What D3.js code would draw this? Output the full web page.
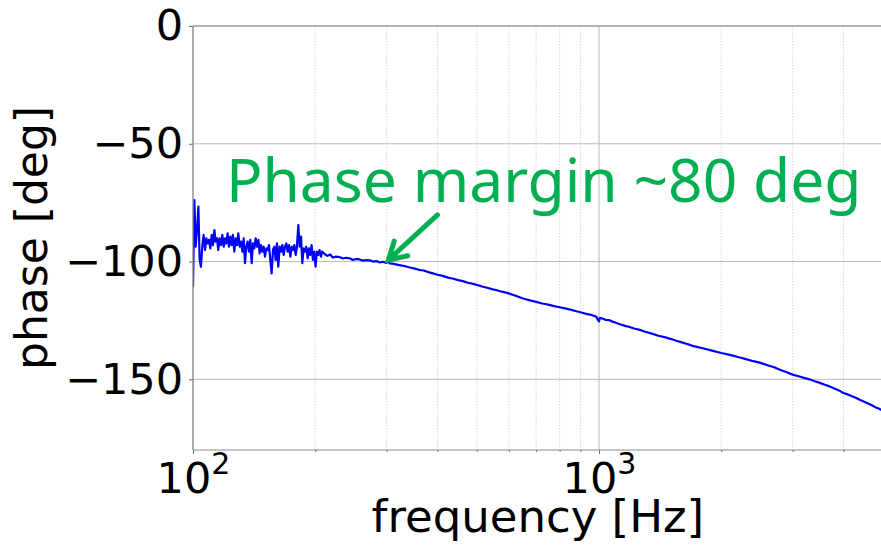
<!DOCTYPE html>
<html>
<head>
<meta charset="utf-8">
<script src="https://cdn.jsdelivr.net/npm/d3@7"></script>
<style>
  html, body { margin: 0; padding: 0; background: #fff; }
  svg { display: block; }
</style>
</head>
<body>
<div id="container"></div>
<script>
const freqHz = [
  100.0, 100.8, 101.5, 102.3, 103.1, 103.85, 104.6, 105.4, 106.2, 107.05,
  107.85, 108.7, 109.5, 110.3, 111.2, 112.0, 112.9, 113.7, 114.6, 115.4,
  116.3, 117.2, 118.1, 119.0, 119.9, 120.8, 121.7, 122.6, 123.6, 124.5,
  125.4, 126.4, 127.4, 128.3, 129.3, 130.3, 131.3, 132.3, 133.3, 134.3,
  135.3, 136.3, 137.4, 138.4, 139.5, 140.5, 141.6, 142.7, 143.8, 144.9,
  145.9, 147.0, 148.2, 149.3, 150.4, 151.6, 152.7, 153.9, 155.0, 156.2,
  157.4, 158.6, 159.8, 161.0, 162.2, 163.5, 164.7, 166.0, 167.2, 168.5,
  169.8, 171.1, 172.4, 173.7, 175.0, 176.3, 177.6, 179.0, 180.3, 181.7,
  183.1, 184.5, 185.9, 187.3, 188.7, 190.1, 191.6, 193.0, 194.5, 195.9,
  197.4, 198.9, 200.4, 201.9, 203.5, 205.0, 206.6, 208.1, 211.3, 214.5,
  217.7, 221.0, 225.2, 229.5, 234.0, 238.5, 243.1, 247.7, 252.5, 257.3,
  262.3, 267.3, 272.4, 277.6, 283.0, 288.4, 293.9, 299.5, 302, 305,
  310, 320, 330, 340, 350, 360, 370, 380, 390, 400,
  412, 425, 438, 450, 462, 475, 488, 500, 515, 530,
  545, 560, 580, 600, 615, 630, 645, 660, 680, 700,
  725, 750, 775, 800, 825, 850, 875, 900, 925, 950,
  970, 985, 995, 1000, 1005, 1020, 1040, 1060, 1080, 1100,
  1130, 1160, 1190, 1220, 1260, 1300, 1350, 1400, 1450, 1500,
  1550, 1600, 1650, 1700, 1800, 1900, 2000, 2100, 2200, 2300,
  2400, 2500, 2600, 2700, 2800, 2900, 3000, 3100, 3200, 3300,
  3400, 3500, 3600, 3700, 3800, 3900, 4000, 4100, 4200, 4300,
  4400, 4500, 4600, 4700, 4800, 4900, 5000
];
const phaseDeg = [
  -110.6, -73.9, -93.7, -86.6, -76.7, -99.3, -102.2, -93.7, -88.7, -95.1,
  -90.1, -92.3, -90.8, -94.4, -88.7, -93.0, -86.6, -91.5, -90.1, -95.1,
  -90.1, -93.0, -88.7, -93.7, -90.1, -92.3, -88.0, -93.7, -89.4, -93.0,
  -88.7, -95.8, -90.1, -93.0, -88.0, -93.7, -91.5, -95.8, -90.1, -100.7,
  -93.7, -91.5, -95.8, -90.8, -100.7, -92.3, -94.4, -90.1, -93.7, -90.8,
  -96.5, -93.0, -95.8, -93.7, -97.9, -94.4, -95.1, -93.0, -99.3, -105.0,
  -95.1, -93.7, -99.3, -92.3, -102.2, -93.7, -95.8, -93.0, -97.2, -93.7,
  -92.3, -95.8, -93.0, -97.9, -93.7, -95.1, -93.0, -97.2, -93.7, -84.5,
  -93.7, -89.4, -100.7, -94.4, -95.8, -93.7, -98.6, -94.4, -97.2, -93.0,
  -99.3, -95.8, -102.2, -95.8, -97.2, -95.1, -97.9, -95.8, -96.9, -97.6,
  -97.0, -98.3, -97.9, -98.1, -98.7, -98.4, -98.6, -99.3, -98.9, -99.1,
  -99.6, -99.4, -99.5, -100.0, -99.8, -100.4, -100.1, -100.6, -99.7, -100.8,
  -100.9, -101.4, -101.8, -102.4, -102.9, -103.5, -103.8, -104.5, -105.0, -105.6,
  -106.1, -106.8, -107.3, -107.9, -108.3, -109.0, -109.4, -109.9, -110.6, -111.1,
  -111.7, -112.2, -112.9, -113.5, -114.2, -114.8, -115.5, -116.0, -116.6, -117.1,
  -117.8, -118.3, -118.9, -119.4, -119.9, -120.4, -121.0, -121.5, -122.1, -122.5,
  -123.0, -123.4, -124.9, -125.4, -123.9, -124.2, -124.8, -124.9, -125.5, -126.0,
  -126.7, -127.3, -127.8, -128.4, -129.0, -129.8, -130.6, -131.5, -132.1, -132.8,
  -133.6, -134.3, -135.0, -135.8, -136.8, -137.8, -138.8, -139.6, -140.5, -141.4,
  -142.3, -143.0, -144.0, -144.9, -146.0, -147.0, -148.0, -148.7, -149.4, -150.0,
  -150.8, -151.5, -152.3, -153.0, -153.9, -154.7, -155.8, -156.4, -157.2, -157.9,
  -158.8, -159.5, -160.3, -161.0, -161.9, -162.5, -163.4
];

const xDomain = [100, 5000];
const yDomain = [-180, 0];
const yTicks = [0, -50, -100, -150];
const xMajorTicks = [100, 1000];
const xMinorTicks = [200, 300, 400, 500, 600, 700, 800, 900, 2000, 3000, 4000, 5000];

const noteText = 'Phase margin ~80 deg';
const noteAt = [120.5, -74.6];      // text anchor (Hz, deg)
const arrowFrom = [400, -80.2];     // arrow tail (Hz, deg)
const arrowTo = [303, -99.3];       // arrow tip (Hz, deg)

const w = 881;
const h = 547;
const plotLeft = 193;
const plotTop = 26;
const plotBottom = 450;
const decade = 406;
const green = '#00b050';

const svg = d3.select('#container')
  .append('svg')
  .attr('width', w)
  .attr('height', h);

const xScale = d3.scaleLog()
  .domain(xDomain)
  .range([plotLeft, plotLeft + decade * Math.log10(xDomain[1] / xDomain[0])]);

const yScale = d3.scaleLinear()
  .domain(yDomain)
  .range([plotBottom, plotTop]);

const plotRight = xScale.range()[1];

svg.append('defs').append('clipPath')
  .attr('id', 'plot-clip')
  .append('rect')
  .attr('x', plotLeft)
  .attr('y', plotTop)
  .attr('width', plotRight - plotLeft)
  .attr('height', plotBottom - plotTop);

// grid
svg.append('g')
  .selectAll('line')
  .data(xMinorTicks)
  .enter()
  .append('line')
  .attr('x1', d => xScale(d))
  .attr('x2', d => xScale(d))
  .attr('y1', plotTop)
  .attr('y2', plotBottom)
  .attr('stroke', '#d6d6d6')
  .attr('stroke-width', 1)
  .attr('stroke-dasharray', '1.5,1.5');

svg.append('g')
  .selectAll('line')
  .data(xMajorTicks)
  .enter()
  .append('line')
  .attr('x1', d => xScale(d))
  .attr('x2', d => xScale(d))
  .attr('y1', plotTop)
  .attr('y2', plotBottom)
  .attr('stroke', '#b8b8b8')
  .attr('stroke-width', 1);

svg.append('g')
  .selectAll('line')
  .data(yTicks)
  .enter()
  .append('line')
  .attr('x1', plotLeft)
  .attr('x2', plotRight)
  .attr('y1', d => yScale(d))
  .attr('y2', d => yScale(d))
  .attr('stroke', '#b8b8b8')
  .attr('stroke-width', 1);

// phase trace
const points = freqHz.map((f, i) => [f, phaseDeg[i]]);

svg.append('path')
  .datum(points)
  .attr('clip-path', 'url(#plot-clip)')
  .attr('fill', 'none')
  .attr('stroke', '#0000ff')
  .attr('stroke-width', 2.2)
  .attr('stroke-linejoin', 'round')
  .attr('d', d3.line().x(d => xScale(d[0])).y(d => yScale(d[1])));

// axes
const yAxis = d3.axisLeft(yScale)
  .tickValues(yTicks)
  .tickSize(4)
  .tickPadding(6);

const yG = svg.append('g')
  .attr('transform', `translate(${plotLeft},0)`)
  .call(yAxis);
yG.select('.domain').remove();
yG.selectAll('.tick line').attr('stroke', '#666');
yG.selectAll('.tick text')
  .attr('font-family', 'DejaVu Sans')
  .attr('font-size', 43)
  .attr('fill', '#000');

const xMinorAxis = d3.axisBottom(xScale)
  .tickValues(xMinorTicks)
  .tickSize(2)
  .tickFormat(() => '');
const xmG = svg.append('g')
  .attr('transform', `translate(0,${plotBottom})`)
  .call(xMinorAxis);
xmG.select('.domain').remove();
xmG.selectAll('.tick line').attr('stroke', '#666');

const xAxis = d3.axisBottom(xScale)
  .tickValues(xMajorTicks)
  .tickSize(4)
  .tickPadding(8)
  .tickFormat(() => '');
const xG = svg.append('g')
  .attr('transform', `translate(0,${plotBottom})`)
  .call(xAxis);
xG.select('.domain').remove();
xG.selectAll('.tick line').attr('stroke', '#666');
xG.selectAll('.tick text')
  .attr('font-family', 'DejaVu Sans')
  .attr('font-size', 43)
  .attr('fill', '#000')
  .attr('dy', '0.72em')
  .each(function (d) {
    const t = d3.select(this);
    t.append('tspan').text('10');
    t.append('tspan')
      .attr('font-size', 30)
      .attr('dy', '-0.62em')
      .text(Math.round(Math.log10(d)));
  });

// spines
svg.append('line')
  .attr('x1', plotLeft).attr('x2', plotRight)
  .attr('y1', plotTop).attr('y2', plotTop)
  .attr('stroke', '#8c8c8c').attr('stroke-width', 1.2);
svg.append('line')
  .attr('x1', plotLeft).attr('x2', plotRight)
  .attr('y1', plotBottom).attr('y2', plotBottom)
  .attr('stroke', '#8c8c8c').attr('stroke-width', 1.2);
svg.append('line')
  .attr('x1', plotLeft).attr('x2', plotLeft)
  .attr('y1', plotTop).attr('y2', plotBottom)
  .attr('stroke', '#8c8c8c').attr('stroke-width', 1.2);

// axis titles
svg.append('text')
  .attr('x', (plotLeft + plotRight) / 2)
  .attr('y', 532)
  .attr('text-anchor', 'middle')
  .attr('font-family', 'DejaVu Sans')
  .attr('font-size', 45)
  .text('frequency [Hz]');

svg.append('text')
  .attr('transform', `translate(47,${(plotTop + plotBottom) / 2}) rotate(-90)`)
  .attr('text-anchor', 'middle')
  .attr('font-family', 'DejaVu Sans')
  .attr('font-size', 44)
  .text('phase [deg]');

// annotation
svg.append('text')
  .attr('x', xScale(noteAt[0]))
  .attr('y', yScale(noteAt[1]))
  .attr('font-family', 'Noto Sans')
  .attr('font-size', 60.5)
  .attr('fill', green)
  .text(noteText);

const ax = xScale(arrowFrom[0]);
const ay = yScale(arrowFrom[1]);
const bx = xScale(arrowTo[0]);
const by = yScale(arrowTo[1]);
const len = Math.hypot(bx - ax, by - ay);
const ux = (bx - ax) / len;
const uy = (by - ay) / len;
const headLen = 17;
const headHalf = 10;
const hx = bx - ux * headLen;
const hy = by - uy * headLen;

svg.append('path')
  .attr('d', `M${ax},${ay}L${bx},${by}` +
    `M${hx - uy * headHalf},${hy + ux * headHalf}L${bx},${by}L${hx + uy * headHalf},${hy - ux * headHalf}`)
  .attr('fill', 'none')
  .attr('stroke', green)
  .attr('stroke-width', 5)
  .attr('stroke-linecap', 'round')
  .attr('stroke-linejoin', 'miter');
</script>
</body>
</html>
